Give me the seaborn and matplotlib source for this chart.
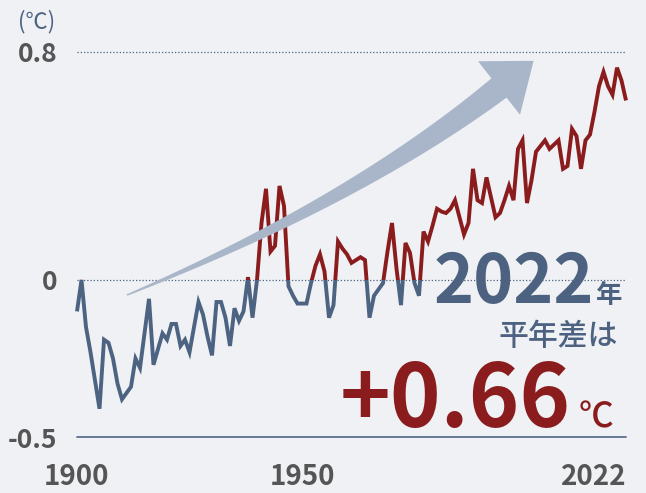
import numpy as np
import pandas as pd
import matplotlib
matplotlib.use("Agg")
import matplotlib.pyplot as plt
import seaborn as sns
from matplotlib.patches import Polygon, Rectangle

# ---------------- data ----------------
years = list(range(1900, 2023))
anomaly = [
    -0.10, 0.00, -0.15, -0.23, -0.32, -0.41, -0.19, -0.20, -0.25, -0.33,   # 1900-1909
    -0.38, -0.36, -0.34, -0.25, -0.28, -0.17, -0.06, -0.27, -0.22, -0.17,  # 1910-1919
    -0.19, -0.14, -0.14, -0.21, -0.19, -0.23, -0.15, -0.07, -0.11, -0.18,  # 1920-1929
    -0.24, -0.07, -0.07, -0.12, -0.21, -0.09, -0.13, -0.10, 0.01, -0.12,   # 1930-1939
    0.00, 0.20, 0.32, 0.10, 0.12, 0.33, 0.26, -0.02, -0.05, -0.075,        # 1940-1949
    -0.075, -0.075, -0.01, 0.05, 0.09, 0.03, -0.12, -0.08, 0.135, 0.11,    # 1950-1959
    0.09, 0.06, 0.07, 0.08, 0.07, -0.12, -0.05, -0.03, -0.01, 0.10,        # 1960-1969
    0.20, 0.04, -0.08, 0.13, 0.095, -0.01, -0.05, 0.17, 0.135, 0.19,       # 1970-1979
    0.25, 0.24, 0.235, 0.25, 0.28, 0.22, 0.16, 0.20, 0.39, 0.28,           # 1980-1989
    0.27, 0.36, 0.29, 0.22, 0.235, 0.28, 0.33, 0.28, 0.46, 0.49,           # 1990-1999
    0.27, 0.35, 0.45, 0.47, 0.49, 0.46, 0.475, 0.49, 0.39, 0.40,           # 2000-2009
    0.53, 0.505, 0.39, 0.49, 0.51, 0.59, 0.68, 0.73, 0.68, 0.65,           # 2010-2019
    0.745, 0.70, 0.63,                                                     # 2020-2022
]
y_ticks = [-0.5, 0, 0.8]
y_tick_labels = ["-0.5", "0", "0.8"]
x_ticks = [1900, 1950, 2022]
x_tick_labels = ["1900", "1950", "2022"]
unit_label = "(℃)"
headline_year = "2022"
headline_year_suffix = "年"
headline_sub = "平年差は"
headline_value = "+0.66"
headline_unit = "℃"

df = pd.DataFrame({"year": years, "anomaly": anomaly})

# ---------------- style ----------------
BG = "#eff1f4"
BLUE = "#4c6382"
RED = "#8b1c1e"
GREY = "#555555"
ARROW = "#a9b6c9"
FONT = ["Noto Sans CJK JP", "DejaVu Sans"]

sns.set_theme(style="white")
plt.rcParams["font.family"] = FONT

W, H = 646, 493
fig = plt.figure(figsize=(W / 100, H / 100), dpi=100, facecolor=BG)

def fx(px):
    return px / W

def fy(py):
    return 1 - py / H

# axes: x 1900 -> 77px, 2022 -> 626px ; y 0.8 -> 52px, -0.5 -> 437px
ax = fig.add_axes([fx(77), fy(437), (626 - 77) / W, (437 - 52) / H])
ax.set_facecolor("none")

K = 314.0 / 285.0  # negative side drawn with a slightly larger scale (as in reference)

def fwd(v):
    v = np.asarray(v, dtype=float)
    return np.where(v < 0, v * K, v)

def inv(u):
    u = np.asarray(u, dtype=float)
    return np.where(u < 0, u / K, u)

ax.set_yscale("function", functions=(fwd, inv))

# reference lines
ax.axhline(0.8, color=BLUE, lw=0.9, ls=(0, (1, 1.6)), zorder=1, clip_on=False)
ax.axhline(0.0, color=BLUE, lw=0.9, ls=(0, (1, 1.6)), zorder=1, clip_on=False)
ax.axhline(-0.5, color="#5b6f8c", lw=1.3, zorder=1, clip_on=False)

# curved arrow (decoration) in figure pixel coords
P0 = np.array([127.0, 295.0])
P1 = np.array([355.0, 201.0])
P2 = np.array([499.0, 88.0])
t = np.linspace(0, 1, 80)[:, None]
pts = (1 - t) ** 2 * P0 + 2 * (1 - t) * t * P1 + t ** 2 * P2
der = 2 * (1 - t) * (P1 - P0) + 2 * t * (P2 - P1)
tan = der / np.linalg.norm(der, axis=1, keepdims=True)
nor = np.column_stack([tan[:, 1], -tan[:, 0]])
wid = (1.5 + 23.0 * t[:, 0] ** 1.0) / 2
left = pts + nor * wid[:, None]
right = pts - nor * wid[:, None]
tEnd = tan[-1]
nEnd = nor[-1]
head_half = 34.0
head_len = 44.0
hb1 = P2 + nEnd * head_half
hb2 = P2 - nEnd * head_half
tip = P2 + tEnd * head_len
poly_px = np.vstack([left, hb1, tip, hb2, right[::-1]])
poly_fig = np.column_stack([fx(poly_px[:, 0]), fy(poly_px[:, 1])])
arrow = Polygon(poly_fig, closed=True, facecolor=ARROW, edgecolor="none",
                transform=fig.transFigure, zorder=1.5, clip_on=False)
fig.patches.append(arrow)

# line: red above zero, blue below zero
sns.lineplot(data=df, x="year", y="anomaly", ax=ax, color=RED, lw=2.8,
             estimator=None, sort=False, zorder=3)
sns.lineplot(data=df, x="year", y="anomaly", ax=ax, color=BLUE, lw=2.8,
             estimator=None, sort=False, zorder=3)
lines = ax.get_lines()[-2:]
ax.set_xlim(1900, 2022)
ax.set_ylim(-0.5, 0.8)
clip_red = Rectangle((1880, 0), 160, 2, transform=ax.transData)
clip_blue = Rectangle((1880, -2), 160, 2, transform=ax.transData)
lines[0].set_clip_path(clip_red)
lines[1].set_clip_path(clip_blue)
for ln in lines:
    ln.set_solid_joinstyle("miter")
    ln.set_solid_capstyle("butt")

# ticks
ax.set_xticks(x_ticks)
ax.set_xticklabels(x_tick_labels)
ax.set_yticks(y_ticks)
ax.set_yticklabels(y_tick_labels)
ax.tick_params(axis="both", length=0)
ax.tick_params(axis="y", pad=14, labelsize=19, labelcolor=GREY)
ax.tick_params(axis="x", pad=19, labelsize=20, labelcolor=GREY)
for lab in ax.get_xticklabels() + ax.get_yticklabels():
    lab.set_fontweight("bold")
    lab.set_family(FONT)
ax.get_xticklabels()[-1].set_horizontalalignment("right")
ax.set_xlabel("")
ax.set_ylabel("")
for s in ax.spines.values():
    s.set_visible(False)
ax.grid(False)

# texts
fig.text(fx(37), fy(22), unit_label, color=BLUE, fontsize=16, ha="center", va="center")
fig.text(fx(434), fy(303), headline_year, color="#4d6280", fontsize=49,
         fontweight="bold", ha="left", va="baseline")
fig.text(fx(596), fy(303), headline_year_suffix, color="#4d6280", fontsize=19,
         fontweight="bold", ha="left", va="baseline")
fig.text(fx(618), fy(345), headline_sub, color="#4d6280", fontsize=21.5,
         fontweight="medium", ha="right", va="baseline")
fig.text(fx(340), fy(427), headline_value, color=RED, fontsize=62,
         fontweight="bold", ha="left", va="baseline")
fig.text(fx(579), fy(427), headline_unit, color=RED, fontsize=25,
         fontweight="medium", ha="left", va="baseline")

fig.savefig("out.png", dpi=100, facecolor=BG)
